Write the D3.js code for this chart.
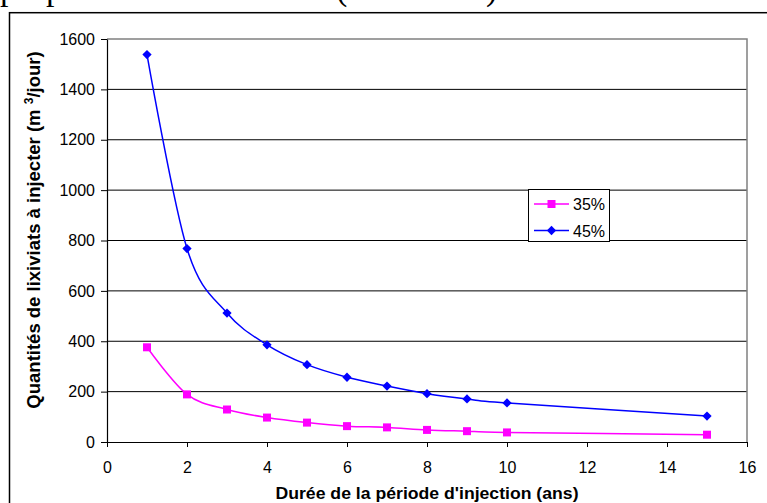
<!DOCTYPE html>
<html><head><meta charset="utf-8">
<script src="https://cdn.jsdelivr.net/npm/d3@7"></script>
<style>html,body{margin:0;padding:0;background:#fff;overflow:hidden}</style>
</head><body>
<script>
const years = [1,2,3,4,5,6,7,8,9,10,15];
const series35 = [376,189,129,97,77,63,58,48,43,38,29];
const series45 = [1538,768,512,386,307,257,222,192,171,155,103];
const seriesNames = ["35%","45%"];
const xTicks = [0,2,4,6,8,10,12,14,16];
const yTicks = [0,200,400,600,800,1000,1200,1400,1600];

const W=767,H=503;
const svg=d3.select("body").append("svg").attr("width",W).attr("height",H);

// fragments of the text line above (cut off in the reference)
const frag=[["p",0],["p",46],["(",336],[")",486]];
svg.selectAll("text.frag").data(frag).join("text").attr("class","frag")
  .attr("x",d=>d[1]).attr("y",-0.5).attr("font-family","Liberation Serif")
  .attr("font-size",34).text(d=>d[0]);

// outer frame
svg.append("rect").attr("x",9.5).attr("y",12.7).attr("width",900).attr("height",700)
  .attr("fill","#fff").attr("stroke","#000").attr("stroke-width",1.5);

const x=d3.scaleLinear().domain([0,16]).range([107,747]);
const y=d3.scaleLinear().domain([0,1600]).range([442,39]);

// gridlines
svg.append("g").selectAll("line").data(yTicks.filter(v=>v>0&&v<1600)).join("line")
  .attr("x1",x(0)).attr("x2",x(16)).attr("y1",d=>y(d)).attr("y2",d=>y(d))
  .attr("stroke","#000").attr("stroke-width",1);
// plot border top/right gray
svg.append("path").attr("d",`M${x(0)},${y(1600)}H${x(16)}V${y(0)}`)
  .attr("fill","none").attr("stroke","#808080").attr("stroke-width",1.5);

const font="Liberation Sans, Arial, sans-serif";
const xAxis=svg.append("g").attr("transform",`translate(0,${y(0)})`)
  .call(d3.axisBottom(x).tickValues(xTicks).tickFormat(d3.format("d")).tickSize(5).tickPadding(15).tickSizeOuter(0));
const yAxis=svg.append("g").attr("transform",`translate(${x(0)},0)`)
  .call(d3.axisLeft(y).tickValues(yTicks).tickFormat(d3.format("d")).tickSize(6).tickPadding(6).tickSizeOuter(0));
[xAxis,yAxis].forEach(g=>{
  g.select(".domain").attr("stroke","#000").attr("stroke-width",1.2);
  g.selectAll(".tick line").attr("stroke","#000");
  g.selectAll(".tick text").attr("font-family",font).attr("font-size",16).attr("fill","#000");
});

// series
const line=d3.line().x((d,i)=>x(years[i])).y(d=>y(d)).curve(d3.curveCatmullRom.alpha(0));
svg.append("path").datum(series35).attr("d",line).attr("fill","none")
  .attr("stroke","#ff00ff").attr("stroke-width",1.5);
svg.append("path").datum(series45).attr("d",line).attr("fill","none")
  .attr("stroke","#0000ff").attr("stroke-width",1.5);
svg.append("g").selectAll("rect").data(series35).join("rect")
  .attr("x",(d,i)=>x(years[i])-4).attr("y",d=>y(d)-4).attr("width",8).attr("height",8)
  .attr("fill","#ff00ff");
const diamond=d3.symbol().type(d3.symbolDiamond2).size(55);
svg.append("g").selectAll("path").data(series45).join("path")
  .attr("transform",(d,i)=>`translate(${x(years[i])},${y(d)})`).attr("d",diamond)
  .attr("fill","#0000ff");

// legend
const lg=svg.append("g");
lg.append("rect").attr("x",528.5).attr("y",189.5).attr("width",81).attr("height",52)
  .attr("fill","#fff").attr("stroke","#000").attr("stroke-width",1);
const legItems=[{name:seriesNames[0],c:"#ff00ff",m:"sq",yy:204},{name:seriesNames[1],c:"#0000ff",m:"di",yy:230.5}];
legItems.forEach(it=>{
  lg.append("line").attr("x1",534).attr("x2",569).attr("y1",it.yy).attr("y2",it.yy)
    .attr("stroke",it.c).attr("stroke-width",1.5);
  if(it.m==="sq") lg.append("rect").attr("x",551.5-4).attr("y",it.yy-4).attr("width",8).attr("height",8).attr("fill",it.c);
  else lg.append("path").attr("transform",`translate(551.5,${it.yy})`).attr("d",diamond).attr("fill",it.c);
  lg.append("text").attr("x",573).attr("y",it.yy+6).attr("font-family",font).attr("font-size",16).text(it.name);
});

// axis titles
svg.append("text").attr("x",427).attr("y",499).attr("text-anchor","middle")
  .attr("font-family",font).attr("font-weight","bold").attr("font-size",17)
  .attr("textLength",303).attr("lengthAdjust","spacingAndGlyphs")
  .text("Durée de la période d'injection (ans)");
const yt=svg.append("text").attr("transform","translate(40,230) rotate(-90)").attr("text-anchor","middle")
  .attr("font-family",font).attr("font-weight","bold").attr("font-size",18.5);
yt.append("tspan").text("Quantités de lixiviats à injecter (m ");
yt.append("tspan").attr("font-size",12).attr("dy",-7).text("3");
yt.append("tspan").attr("dy",7).text("/jour)");
</script>
</body></html>
